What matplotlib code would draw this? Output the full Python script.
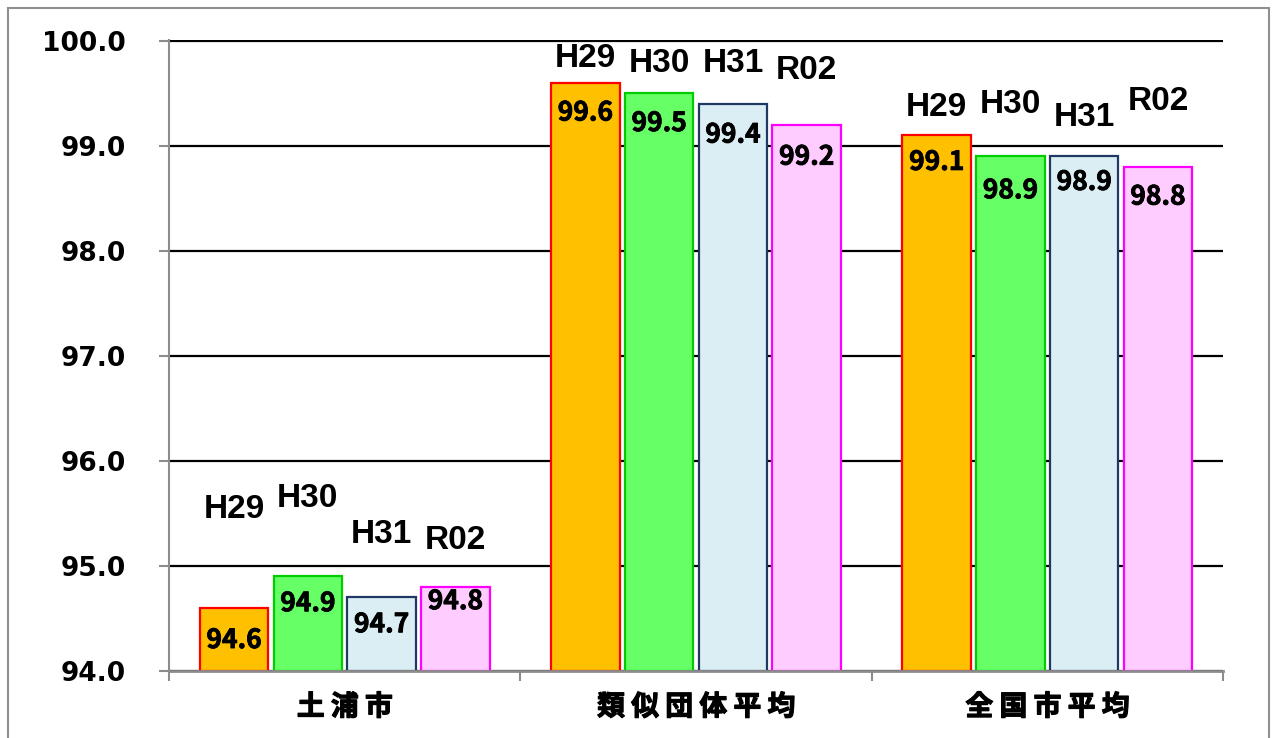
import matplotlib.pyplot as plt
import matplotlib.patheffects as pe
import numpy as np
from matplotlib.patches import Rectangle

plt.rcParams["font.family"] = ["Noto Sans CJK JP", "DejaVu Sans"]

categories = ["土浦市", "類似団体平均", "全国市平均"]
series = ["H29", "H30", "H31", "R02"]
h29 = [94.6, 99.6, 99.1]
h30 = [94.9, 99.5, 98.9]
h31 = [94.7, 99.4, 98.9]
r02 = [94.8, 99.2, 98.8]
y_ticks = [94.0, 95.0, 96.0, 97.0, 98.0, 99.0, 100.0]

values = [h29, h30, h31, r02]
face_colors = ["#FFC000", "#66FF66", "#DAEEF3", "#FFCCFF"]
edge_colors = ["#FF0000", "#00CC00", "#1F3864", "#FF00FF"]

# where the year tags sit (data units), per series and group
name_y = [
    [95.54, 99.83, 99.36],
    [95.64, 99.78, 99.39],
    [95.30, 99.78, 99.27],
    [95.24, 99.71, 99.42],
]
# value labels sit a little under the top of each bar
value_dy = [
    [-0.31, -0.29, -0.26],
    [-0.26, -0.29, -0.33],
    [-0.26, -0.30, -0.25],
    [-0.14, -0.31, -0.29],
]

heavy = [pe.withStroke(linewidth=0.6, foreground="black")]

fig = plt.figure(figsize=(12.73, 7.38), dpi=100)
ax = fig.add_axes([0.1328, 0.0908, 0.8279, 0.855])

x = np.arange(len(categories))
step = 0.21
width = 0.195

for i, (name, vals) in enumerate(zip(series, values)):
    xpos = x + (i - 1.5) * step
    ax.bar(xpos, np.array(vals) - 94.0, bottom=94.0, width=width,
           color=face_colors[i], edgecolor=edge_colors[i], linewidth=1.6, zorder=2)
    for j, v in enumerate(vals):
        ax.text(xpos[j], v + value_dy[i][j], f"{v:.1f}", ha="center", va="center",
                fontsize=19, fontweight="bold", color="black", zorder=4,
                path_effects=heavy)
        ax.text(xpos[j], name_y[i][j], name, ha="center", va="center",
                fontsize=24, family=["Liberation Sans Narrow", "Liberation Sans"],
                fontweight="bold", color="black", zorder=4)

ax.set_xlim(-0.5, 2.5)
ax.set_ylim(94.0, 100.005)
ax.set_yticks(y_ticks)
ax.set_yticklabels([f"{t:.1f}" for t in y_ticks], family="DejaVu Sans",
                   fontsize=19, fontweight="bold")
ax.set_xticks(x)
ax.set_xticklabels([" ".join(c) for c in categories], fontsize=20, fontweight="bold")
for lbl in ax.get_xticklabels():
    lbl.set_path_effects([pe.withStroke(linewidth=0.9, foreground="black")])
ax.set_xticks([-0.5, 0.5, 1.5, 2.5], minor=True)

ax.tick_params(axis="y", length=7, width=1.5, color="#8c8c8c", pad=24)
ax.tick_params(axis="x", which="major", length=0, pad=16)
ax.tick_params(axis="x", which="minor", length=7, width=1.5, color="#8c8c8c")

ax.yaxis.grid(True, color="black", linewidth=1.6)
ax.set_axisbelow(True)

for side in ["top", "right"]:
    ax.spines[side].set_visible(False)
ax.spines["left"].set_color("#8c8c8c")
ax.spines["left"].set_linewidth(1.5)
ax.spines["bottom"].set_color("#8c8c8c")
ax.spines["bottom"].set_linewidth(2)
ax.spines["bottom"].set_zorder(3)

# thin frame round the whole figure
fig.add_artist(Rectangle((8 / 1273, -0.01), 1261 / 1273, 1 - 8 / 738 + 0.01,
                         transform=fig.transFigure, fill=False,
                         edgecolor="#8f8f8f", linewidth=1.5))

fig.savefig("out.png", dpi=100)
